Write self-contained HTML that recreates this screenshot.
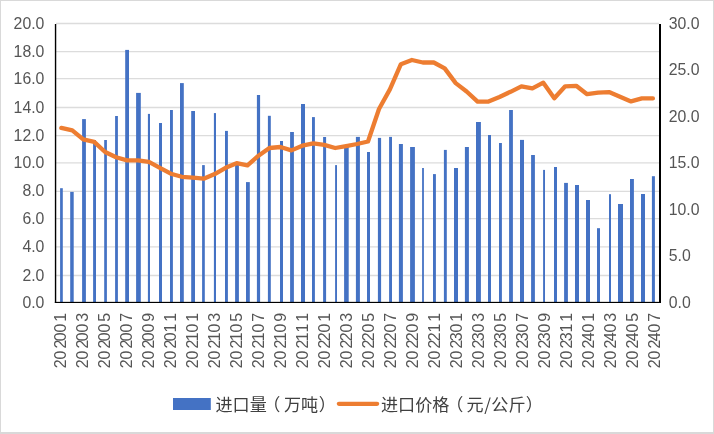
<!DOCTYPE html>
<html><head><meta charset="utf-8"><title>chart</title>
<style>html,body{margin:0;padding:0;background:#fff}svg{display:block}text{font-family:"Liberation Sans","Noto Sans CJK SC",sans-serif}.n{font-size:16px;fill:#555}.c{font-family:"Noto Sans CJK SC","Liberation Sans",sans-serif;font-size:17.1px;fill:#404040}</style></head><body>
<svg width="714" height="434" viewBox="0 0 714 434">
<rect x="0" y="0" width="714" height="434" fill="#fff"/>
<rect x="0" y="0" width="714" height="1" fill="#d9d9d9"/><rect x="0" y="0" width="1" height="434" fill="#d9d9d9"/><rect x="713" y="0" width="1" height="434" fill="#d9d9d9"/><rect x="0" y="432" width="714" height="2" fill="#d9d9d9"/>
<line x1="56" x2="659" y1="23.50" y2="23.50" stroke="#dcdcdc" stroke-width="1.3"/>
<line x1="56" x2="659" y1="51.60" y2="51.60" stroke="#dcdcdc" stroke-width="1.3"/>
<line x1="56" x2="659" y1="78.60" y2="78.60" stroke="#dcdcdc" stroke-width="1.3"/>
<line x1="56" x2="659" y1="107.50" y2="107.50" stroke="#dcdcdc" stroke-width="1.3"/>
<line x1="56" x2="659" y1="135.60" y2="135.60" stroke="#dcdcdc" stroke-width="1.3"/>
<line x1="56" x2="659" y1="162.80" y2="162.80" stroke="#dcdcdc" stroke-width="1.3"/>
<line x1="56" x2="659" y1="191.40" y2="191.40" stroke="#dcdcdc" stroke-width="1.3"/>
<line x1="56" x2="659" y1="218.60" y2="218.60" stroke="#dcdcdc" stroke-width="1.3"/>
<line x1="56" x2="659" y1="246.80" y2="246.80" stroke="#dcdcdc" stroke-width="1.3"/>
<line x1="56" x2="659" y1="275.50" y2="275.50" stroke="#dcdcdc" stroke-width="1.3"/>
<rect x="60.1" y="188.2" width="2.7" height="113.8" fill="#4472c4"/>
<rect x="70.2" y="191.9" width="3.5" height="110.1" fill="#4472c4"/>
<rect x="82.1" y="119.1" width="3.8" height="182.9" fill="#4472c4"/>
<rect x="93.1" y="140.0" width="2.9" height="162.0" fill="#4472c4"/>
<rect x="104.2" y="140.0" width="2.7" height="162.0" fill="#4472c4"/>
<rect x="115.1" y="116.0" width="2.8" height="186.0" fill="#4472c4"/>
<rect x="125.2" y="49.9" width="3.8" height="252.1" fill="#4472c4"/>
<rect x="136.1" y="92.9" width="4.7" height="209.1" fill="#4472c4"/>
<rect x="147.9" y="113.9" width="2.1" height="188.1" fill="#4472c4"/>
<rect x="159.0" y="123.0" width="3.0" height="179.0" fill="#4472c4"/>
<rect x="170.0" y="110.0" width="2.9" height="192.0" fill="#4472c4"/>
<rect x="180.0" y="83.1" width="3.8" height="218.9" fill="#4472c4"/>
<rect x="191.2" y="111.0" width="3.8" height="191.0" fill="#4472c4"/>
<rect x="202.1" y="165.1" width="2.7" height="136.9" fill="#4472c4"/>
<rect x="213.9" y="113.1" width="2.1" height="188.9" fill="#4472c4"/>
<rect x="225.0" y="130.9" width="2.9" height="171.1" fill="#4472c4"/>
<rect x="235.1" y="164.7" width="3.8" height="137.3" fill="#4472c4"/>
<rect x="246.0" y="182.1" width="3.8" height="119.9" fill="#4472c4"/>
<rect x="256.9" y="95.0" width="3.2" height="207.0" fill="#4472c4"/>
<rect x="267.9" y="115.8" width="2.9" height="186.2" fill="#4472c4"/>
<rect x="280.0" y="141.0" width="3.0" height="161.0" fill="#4472c4"/>
<rect x="290.1" y="132.0" width="3.8" height="170.0" fill="#4472c4"/>
<rect x="301.0" y="104.0" width="4.0" height="198.0" fill="#4472c4"/>
<rect x="312.0" y="117.1" width="2.9" height="184.9" fill="#4472c4"/>
<rect x="323.1" y="137.0" width="3.0" height="165.0" fill="#4472c4"/>
<rect x="335.1" y="165.1" width="1.9" height="136.9" fill="#4472c4"/>
<rect x="344.1" y="147.0" width="4.6" height="155.0" fill="#4472c4"/>
<rect x="355.9" y="136.9" width="4.0" height="165.1" fill="#4472c4"/>
<rect x="367.0" y="152.0" width="3.0" height="150.0" fill="#4472c4"/>
<rect x="377.9" y="137.9" width="3.2" height="164.1" fill="#4472c4"/>
<rect x="389.1" y="136.9" width="2.9" height="165.1" fill="#4472c4"/>
<rect x="398.9" y="144.0" width="4.0" height="158.0" fill="#4472c4"/>
<rect x="410.1" y="147.0" width="4.8" height="155.0" fill="#4472c4"/>
<rect x="422.1" y="168.0" width="1.8" height="134.0" fill="#4472c4"/>
<rect x="433.0" y="174.1" width="2.9" height="127.9" fill="#4472c4"/>
<rect x="443.9" y="149.9" width="2.9" height="152.1" fill="#4472c4"/>
<rect x="454.0" y="168.0" width="4.0" height="134.0" fill="#4472c4"/>
<rect x="464.9" y="147.0" width="4.0" height="155.0" fill="#4472c4"/>
<rect x="476.0" y="122.0" width="4.9" height="180.0" fill="#4472c4"/>
<rect x="488.0" y="135.0" width="3.0" height="167.0" fill="#4472c4"/>
<rect x="499.0" y="143.0" width="2.9" height="159.0" fill="#4472c4"/>
<rect x="509.1" y="110.0" width="3.8" height="192.0" fill="#4472c4"/>
<rect x="520.0" y="139.9" width="4.0" height="162.1" fill="#4472c4"/>
<rect x="531.1" y="155.0" width="3.8" height="147.0" fill="#4472c4"/>
<rect x="543.1" y="169.9" width="1.9" height="132.1" fill="#4472c4"/>
<rect x="554.0" y="167.0" width="3.0" height="135.0" fill="#4472c4"/>
<rect x="564.1" y="182.9" width="3.8" height="119.1" fill="#4472c4"/>
<rect x="575.0" y="185.0" width="4.0" height="117.0" fill="#4472c4"/>
<rect x="586.0" y="200.0" width="4.0" height="102.0" fill="#4472c4"/>
<rect x="597.0" y="228.2" width="3.0" height="73.8" fill="#4472c4"/>
<rect x="609.0" y="194.2" width="2.0" height="107.8" fill="#4472c4"/>
<rect x="618.0" y="204.0" width="5.0" height="98.0" fill="#4472c4"/>
<rect x="630.0" y="179.0" width="3.9" height="123.0" fill="#4472c4"/>
<rect x="641.0" y="194.0" width="4.0" height="108.0" fill="#4472c4"/>
<rect x="651.9" y="176.2" width="3.0" height="125.8" fill="#4472c4"/>
<rect x="54.85" y="24" width="1.4" height="279" fill="#000"/>
<rect x="54.85" y="301.85" width="606.15" height="1.15" fill="#000"/>
<rect x="659" y="24" width="2" height="279" fill="#000"/>
<polyline points="61.3,127.9 72.3,130.4 83.2,139.4 94.2,141.9 105.1,152.0 116.1,157.3 127.0,160.4 138.0,160.4 148.9,161.9 159.9,167.8 170.8,173.7 181.8,176.8 192.8,177.6 203.7,178.7 214.7,174.1 225.6,167.8 236.6,163.2 247.5,165.3 258.5,155.7 269.4,148.0 280.4,147.0 291.4,150.4 302.3,145.7 313.3,143.4 324.2,144.9 335.2,148.0 346.1,146.1 357.1,144.0 368.0,141.5 379.0,109.0 389.9,89.4 400.9,64.2 411.9,60.0 422.8,62.5 433.8,62.5 444.7,68.4 455.7,83.1 466.6,91.5 477.6,101.6 488.5,101.6 499.5,97.0 510.5,91.8 521.4,86.3 532.4,88.4 543.3,82.7 554.3,98.2 565.2,86.3 576.2,85.8 587.1,94.2 598.1,92.6 609.0,92.1 620.0,96.8 631.0,101.4 641.9,98.4 652.9,98.4" fill="none" stroke="#ed7d31" stroke-width="4.3" stroke-linejoin="round" stroke-linecap="round"/>
<text class="n" transform="translate(44.4,28.5) scale(0.99,1)" text-anchor="end">20.0</text>
<text class="n" transform="translate(44.4,56.6) scale(0.99,1)" text-anchor="end">18.0</text>
<text class="n" transform="translate(44.4,83.6) scale(0.99,1)" text-anchor="end">16.0</text>
<text class="n" transform="translate(44.4,112.5) scale(0.99,1)" text-anchor="end">14.0</text>
<text class="n" transform="translate(44.4,140.6) scale(0.99,1)" text-anchor="end">12.0</text>
<text class="n" transform="translate(44.4,167.6) scale(0.99,1)" text-anchor="end">10.0</text>
<text class="n" transform="translate(44.4,196.4) scale(0.99,1)" text-anchor="end">8.0</text>
<text class="n" transform="translate(44.4,223.5) scale(0.99,1)" text-anchor="end">6.0</text>
<text class="n" transform="translate(44.4,251.7) scale(0.99,1)" text-anchor="end">4.0</text>
<text class="n" transform="translate(44.4,280.6) scale(0.99,1)" text-anchor="end">2.0</text>
<text class="n" transform="translate(44.4,307.6) scale(0.99,1)" text-anchor="end">0.0</text>
<text class="n" transform="translate(668.7,28.5) scale(0.99,1)">30.0</text>
<text class="n" transform="translate(668.7,74.7) scale(0.99,1)">25.0</text>
<text class="n" transform="translate(668.7,121.5) scale(0.99,1)">20.0</text>
<text class="n" transform="translate(668.7,167.6) scale(0.99,1)">15.0</text>
<text class="n" transform="translate(668.7,214.6) scale(0.99,1)">10.0</text>
<text class="n" transform="translate(668.7,260.7) scale(0.99,1)">5.0</text>
<text class="n" transform="translate(668.7,307.6) scale(0.99,1)">0.0</text>
<text class="n" transform="translate(66.2,368.3) rotate(-90)" x="0.0 8.8 19.8 27.1 35.8 46.6" y="0">202001</text>
<text class="n" transform="translate(88.2,368.3) rotate(-90)" x="0.0 8.8 19.8 27.1 35.8 46.6" y="0">202003</text>
<text class="n" transform="translate(110.2,368.3) rotate(-90)" x="0.0 8.8 19.8 27.1 35.8 46.6" y="0">202005</text>
<text class="n" transform="translate(132.1,368.3) rotate(-90)" x="0.0 8.8 19.8 27.1 35.8 46.6" y="0">202007</text>
<text class="n" transform="translate(154.1,368.3) rotate(-90)" x="0.0 8.8 19.8 27.1 35.8 46.6" y="0">202009</text>
<text class="n" transform="translate(176.1,368.3) rotate(-90)" x="0.0 8.8 19.8 27.1 35.8 46.6" y="0">202011</text>
<text class="n" transform="translate(198.1,368.3) rotate(-90)" x="0.0 8.8 19.8 27.1 35.8 46.6" y="0">202101</text>
<text class="n" transform="translate(220.1,368.3) rotate(-90)" x="0.0 8.8 19.8 27.1 35.8 46.6" y="0">202103</text>
<text class="n" transform="translate(242.0,368.3) rotate(-90)" x="0.0 8.8 19.8 27.1 35.8 46.6" y="0">202105</text>
<text class="n" transform="translate(264.0,368.3) rotate(-90)" x="0.0 8.8 19.8 27.1 35.8 46.6" y="0">202107</text>
<text class="n" transform="translate(286.0,368.3) rotate(-90)" x="0.0 8.8 19.8 27.1 35.8 46.6" y="0">202109</text>
<text class="n" transform="translate(308.0,368.3) rotate(-90)" x="0.0 8.8 19.8 27.1 35.8 46.6" y="0">202111</text>
<text class="n" transform="translate(330.0,368.3) rotate(-90)" x="0.0 8.8 19.8 27.1 35.8 46.6" y="0">202201</text>
<text class="n" transform="translate(351.9,368.3) rotate(-90)" x="0.0 8.8 19.8 27.1 35.8 46.6" y="0">202203</text>
<text class="n" transform="translate(373.9,368.3) rotate(-90)" x="0.0 8.8 19.8 27.1 35.8 46.6" y="0">202205</text>
<text class="n" transform="translate(395.9,368.3) rotate(-90)" x="0.0 8.8 19.8 27.1 35.8 46.6" y="0">202207</text>
<text class="n" transform="translate(417.9,368.3) rotate(-90)" x="0.0 8.8 19.8 27.1 35.8 46.6" y="0">202209</text>
<text class="n" transform="translate(439.9,368.3) rotate(-90)" x="0.0 8.8 19.8 27.1 35.8 46.6" y="0">202211</text>
<text class="n" transform="translate(461.8,368.3) rotate(-90)" x="0.0 8.8 19.8 27.1 35.8 46.6" y="0">202301</text>
<text class="n" transform="translate(483.8,368.3) rotate(-90)" x="0.0 8.8 19.8 27.1 35.8 46.6" y="0">202303</text>
<text class="n" transform="translate(505.8,368.3) rotate(-90)" x="0.0 8.8 19.8 27.1 35.8 46.6" y="0">202305</text>
<text class="n" transform="translate(527.8,368.3) rotate(-90)" x="0.0 8.8 19.8 27.1 35.8 46.6" y="0">202307</text>
<text class="n" transform="translate(549.8,368.3) rotate(-90)" x="0.0 8.8 19.8 27.1 35.8 46.6" y="0">202309</text>
<text class="n" transform="translate(571.7,368.3) rotate(-90)" x="0.0 8.8 19.8 27.1 35.8 46.6" y="0">202311</text>
<text class="n" transform="translate(593.7,368.3) rotate(-90)" x="0.0 8.8 19.8 27.1 35.8 46.6" y="0">202401</text>
<text class="n" transform="translate(615.7,368.3) rotate(-90)" x="0.0 8.8 19.8 27.1 35.8 46.6" y="0">202403</text>
<text class="n" transform="translate(637.7,368.3) rotate(-90)" x="0.0 8.8 19.8 27.1 35.8 46.6" y="0">202405</text>
<text class="n" transform="translate(659.7,368.3) rotate(-90)" x="0.0 8.8 19.8 27.1 35.8 46.6" y="0">202407</text>
<rect x="173" y="398" width="37.8" height="12" fill="#4472c4"/>
<text class="c" x="215.5" y="410.5" dx="0 0 0 -3.5 3.5 0 0.7">进口量（万吨）</text>
<line x1="338.9" x2="377.1" y1="403.8" y2="403.8" stroke="#ed7d31" stroke-width="4.3" stroke-linecap="round"/>
<text class="c" x="381" y="410.5" dx="0 0 0 0 -3.2 3.2 0.8 0.3 0 0.3">进口价格（元/公斤）</text>
</svg></body></html>
